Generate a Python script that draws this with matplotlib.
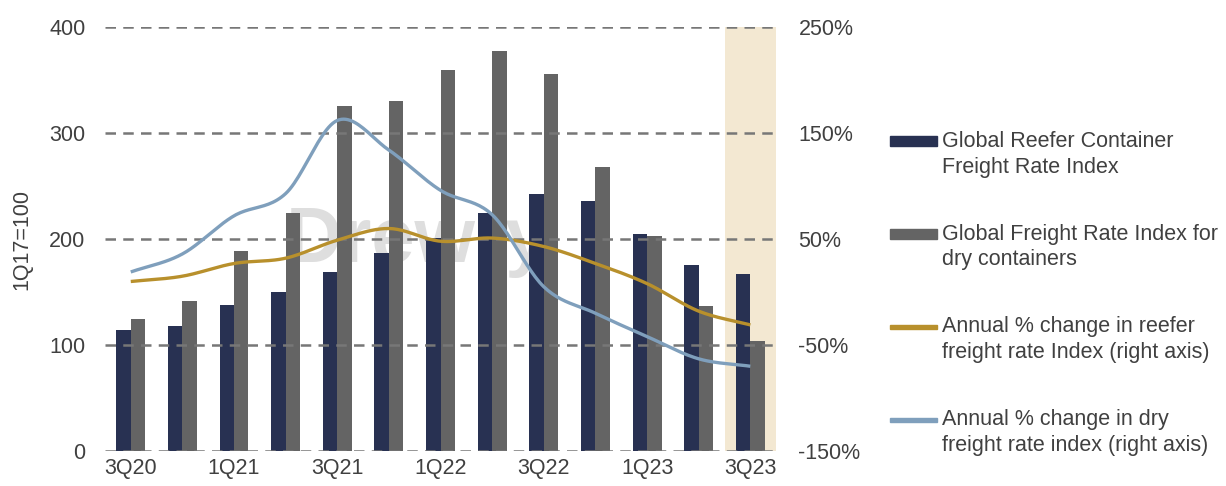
import numpy as np
import matplotlib.pyplot as plt
from matplotlib.patches import Patch, Rectangle
from matplotlib.legend_handler import HandlerPatch

plt.rcParams['font.family'] = ['Liberation Sans', 'DejaVu Sans']

quarters = ['3Q20', '4Q20', '1Q21', '2Q21', '3Q21', '4Q21', '1Q22',
            '2Q22', '3Q22', '4Q22', '1Q23', '2Q23', '3Q23']
reefer_idx = [114, 118, 138, 150, 169, 187, 201, 225, 243, 236, 205, 176, 167]
dry_idx = [125, 142, 189, 225, 326, 330, 360, 378, 356, 268, 203, 137, 104]
reefer_chg = [10, 15, 27, 32, 49, 60, 48, 51, 43, 27, 8, -18, -31]
dry_chg = [19, 36, 72, 93, 162, 134, 96, 73, 5, -20, -42, -63, -70]
tick_labels = ['3Q20', '', '1Q21', '', '3Q21', '', '1Q22', '', '3Q22', '', '1Q23', '', '3Q23']

NAVY = '#283152'
GRAY = '#646464'
GOLD = '#B8902C'
BLUE = '#7F9FBC'
SHADE = '#F3E8D2'
TXT = '#404040'
FS = 15.5


def smooth(x, y, n=24):
    # Catmull-Rom curve through the points, like Excel's smoothed line
    x = np.asarray(x, float)
    y = np.asarray(y, float)
    px = np.concatenate([[2 * x[0] - x[1]], x, [2 * x[-1] - x[-2]]])
    py = np.concatenate([[2 * y[0] - y[1]], y, [2 * y[-1] - y[-2]]])
    xs, ys = [], []
    t = np.linspace(0, 1, n, endpoint=False)
    for i in range(1, len(px) - 2):
        for p, out in ((px, xs), (py, ys)):
            p0, p1, p2, p3 = p[i - 1], p[i], p[i + 1], p[i + 2]
            out.extend(0.5 * (2 * p1 + (-p0 + p2) * t +
                              (2 * p0 - 5 * p1 + 4 * p2 - p3) * t ** 2 +
                              (-p0 + 3 * p1 - 3 * p2 + p3) * t ** 3))
    xs.append(x[-1])
    ys.append(y[-1])
    return np.array(xs), np.array(ys)


def first_line_key(thick):
    # legend key lined up with the first line of a two-line label
    def make(legend, orig_handle, xdescent, ydescent, width, height, fontsize):
        yc = -ydescent + height / 2 + 0.62 * fontsize
        return Rectangle((-xdescent, yc - thick / 2), width, thick)
    return HandlerPatch(patch_func=make)


fig = plt.figure(figsize=(12.26, 4.86), dpi=100)
ax = fig.add_axes([0.0856, 0.072, 0.5475, 0.872])
x = np.arange(len(quarters))
w = 0.28

# highlight the latest quarter
ax.axvspan(len(quarters) - 1.5, len(quarters) - 0.5, color=SHADE, zorder=0, lw=0)

# watermark
ax.text(5.55, 198, 'Drewry', fontsize=56, fontweight='bold', color='#DEDEDE',
        ha='center', va='center', zorder=0.5)

ax.bar(x - w / 2, reefer_idx, w, color=NAVY, zorder=2)
ax.bar(x + w / 2, dry_idx, w, color=GRAY, zorder=2)

ax.set_xlim(-0.5, len(quarters) - 0.5)
ax.set_ylim(0, 400)
ax.set_yticks(np.arange(0, 401, 100))
ax.set_xticks(x)
ax.set_xticklabels(tick_labels)
ax.yaxis.grid(True, linestyle=(0, (4.2, 2.9)), color='#777777', lw=1.8, zorder=1)
ax.set_axisbelow(False)
for s in ax.spines.values():
    s.set_visible(False)
ax.tick_params(axis='y', length=0, labelsize=FS, labelcolor=TXT, pad=14)
ax.tick_params(axis='x', length=0, labelsize=FS, labelcolor=TXT, pad=5)
ax.set_ylabel('1Q17=100', fontsize=FS, color=TXT, labelpad=12)

ax2 = ax.twinx()
ax2.plot(*smooth(x, reefer_chg), color=GOLD, lw=2.4, solid_capstyle='butt')
ax2.plot(*smooth(x, dry_chg), color=BLUE, lw=2.4, solid_capstyle='butt')
ax2.set_ylim(-150, 250)
ax2.set_yticks(np.arange(-150, 251, 100))
ax2.set_yticklabels([f'{v}%' for v in range(-150, 251, 100)])
for s in ax2.spines.values():
    s.set_visible(False)
ax2.tick_params(length=0, labelsize=FS, labelcolor=TXT, pad=16)

h_reefer = Patch(color=NAVY)
h_dry = Patch(color=GRAY)
h_reefer_chg = Patch(color=GOLD)
h_dry_chg = Patch(color=BLUE)
labels = [
    'Global Reefer Container\nFreight Rate Index',
    'Global Freight Rate Index for\ndry containers',
    'Annual % change in reefer\nfreight rate Index (right axis)',
    'Annual % change in dry\nfreight rate index (right axis)',
]
leg = fig.legend([h_reefer, h_dry, h_reefer_chg, h_dry_chg], labels,
                 loc='upper left', bbox_to_anchor=(0.726, 0.731),
                 frameon=False, fontsize=FS, labelcolor=TXT, handlelength=2.2,
                 handletextpad=0.2, labelspacing=2.14,
                 borderpad=0, borderaxespad=0,
                 handler_map={h_reefer: first_line_key(7), h_dry: first_line_key(7),
                              h_reefer_chg: first_line_key(2.4),
                              h_dry_chg: first_line_key(2.4)})
for t in leg.get_texts():
    t.set_linespacing(1.3)

fig.savefig('out.png', dpi=100)
